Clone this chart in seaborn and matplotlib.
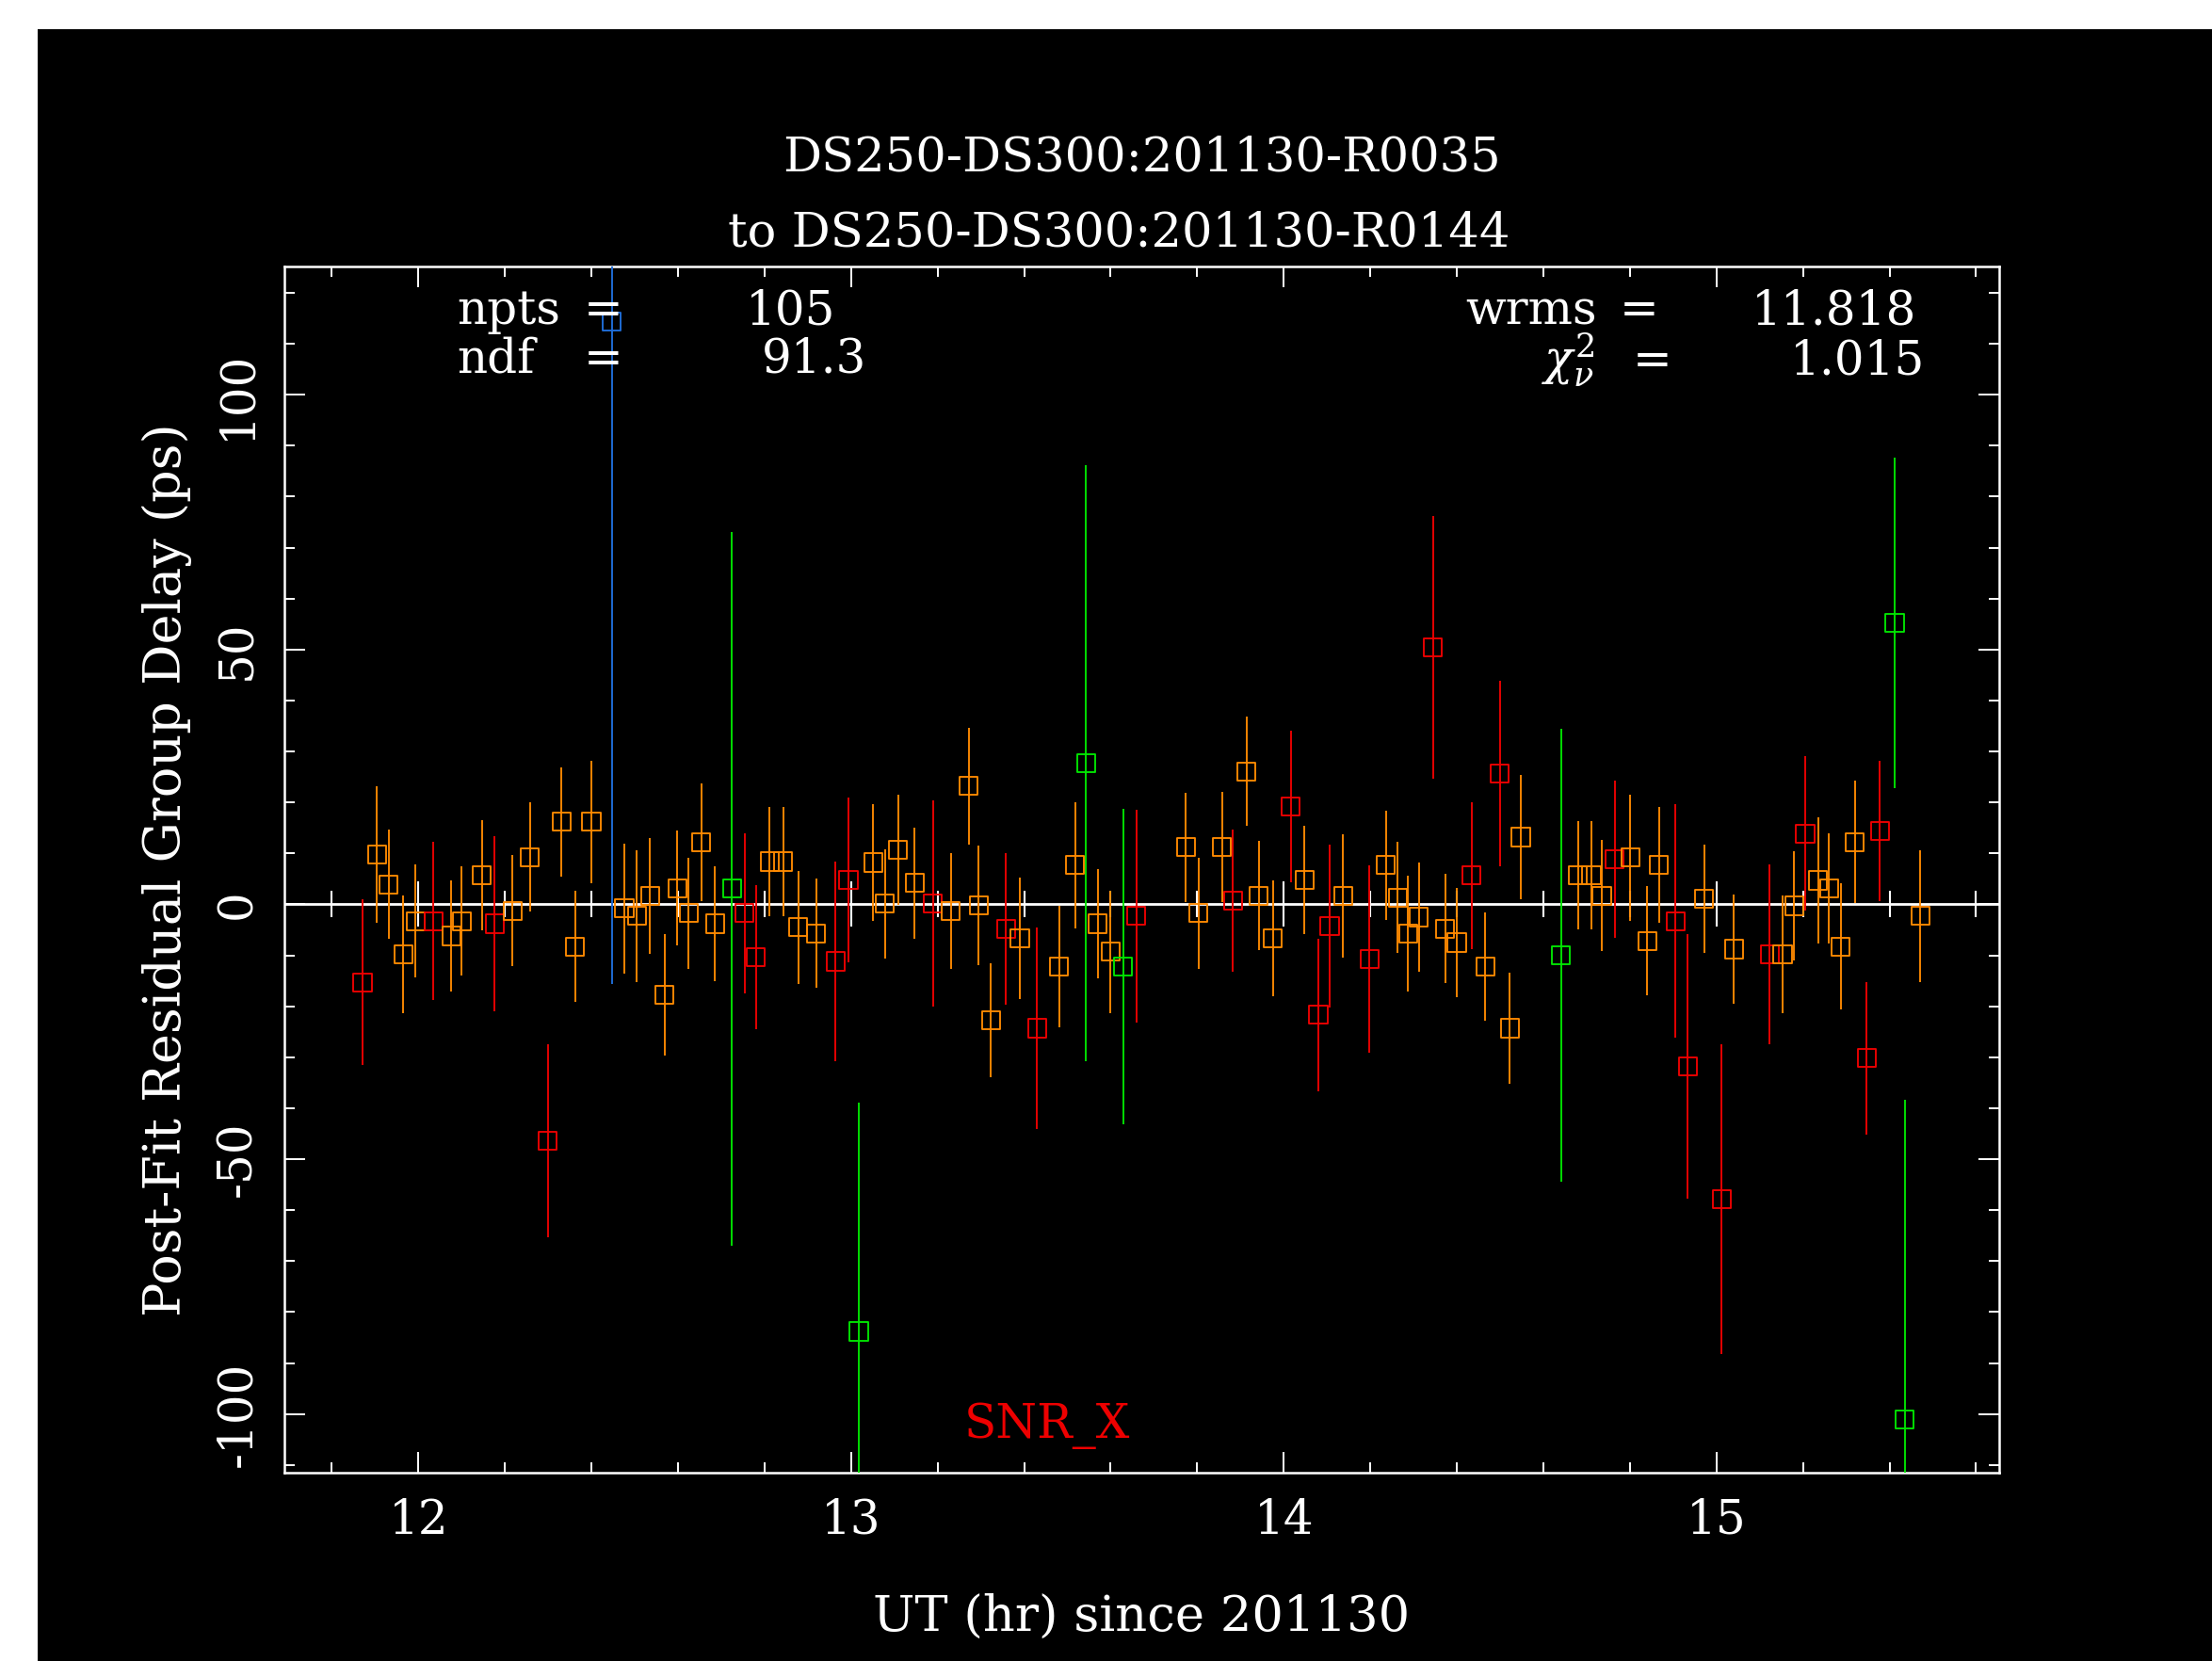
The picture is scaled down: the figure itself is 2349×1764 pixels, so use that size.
import numpy as np
import pandas as pd
import matplotlib
matplotlib.use("Agg")
import matplotlib.pyplot as plt
import seaborn as sns
from matplotlib.patches import Rectangle
from matplotlib.ticker import MultipleLocator

# ---------------- data ----------------
hours = [11.871, 11.904, 11.931, 11.965, 11.994, 12.035, 12.076, 12.100, 12.147, 12.176,
         12.218, 12.258, 12.299, 12.331, 12.362, 12.400, 12.447, 12.476, 12.505, 12.535,
         12.569, 12.599, 12.625, 12.654, 12.686, 12.725, 12.754, 12.780, 12.812, 12.843,
         12.878, 12.919, 12.964, 12.994, 13.018, 13.051, 13.078, 13.109, 13.147, 13.189,
         13.231, 13.272, 13.295, 13.323, 13.358, 13.390, 13.430, 13.481, 13.518, 13.543,
         13.570, 13.600, 13.629, 13.659, 13.774, 13.803, 13.857, 13.883, 13.914, 13.942,
         13.975, 14.016, 14.048, 14.080, 14.106, 14.137, 14.198, 14.236, 14.263, 14.287,
         14.312, 14.345, 14.373, 14.400, 14.434, 14.466, 14.499, 14.522, 14.548, 14.641,
         14.680, 14.711, 14.735, 14.765, 14.801, 14.840, 14.867, 14.905, 14.934, 14.972,
         15.012, 15.040, 15.123, 15.153, 15.180, 15.205, 15.235, 15.260, 15.287, 15.320,
         15.347, 15.378, 15.412, 15.435, 15.471]

delay = [-15.3, 9.7, 3.9, -9.8, -3.3, -3.3, -6.2, -3.3, 5.7, -3.8,
         -1.3, 9.3, -46.4, 16.2, -8.3, 16.2, 114.3, -0.8, -2.3, 1.7,
         -17.8, 3.2, -1.7, 12.2, -3.8, 3.1, -1.7, -10.3, 8.4, 8.4,
         -4.5, -5.7, -11.2, 4.8, -83.8, 8.2, 0.1, 10.7, 4.2, 0.2,
         -1.3, 23.2, -0.2, -22.8, -4.8, -6.7, -24.3, -12.2, 7.7, 27.7,
         -3.8, -9.3, -12.2, -2.3, 11.2, -1.7, 11.2, 0.7, 26.1, 1.7,
         -6.7, 19.2, 4.8, -21.7, -4.3, 1.7, -10.7, 7.7, 1.3, -5.7,
         -2.5, 50.4, -4.8, -7.5, 5.7, -12.2, 25.7, -24.3, 13.2, -10.0,
         5.7, 5.7, 1.7, 8.8, 9.2, -7.2, 7.7, -3.3, -31.8, 1.1,
         -57.9, -8.8, -9.8, -9.8, -0.3, 13.9, 4.7, 3.2, -8.3, 12.2,
         -30.2, 14.4, 55.2, -101.1, -2.3]

sigma = [16.3, 13.4, 10.7, 11.6, 11.1, 15.5, 10.9, 10.7, 10.8, 17.1,
         10.9, 10.7, 18.9, 10.7, 10.9, 12.0, 130.0, 12.7, 12.9, 11.4,
         11.9, 11.2, 10.9, 11.5, 11.2, 70.0, 15.7, 14.1, 10.7, 10.7,
         11.1, 10.7, 19.6, 16.1, 44.9, 11.4, 10.7, 10.8, 10.9, 20.2,
         11.4, 11.4, 11.7, 11.2, 14.9, 11.9, 19.7, 12.0, 12.4, 58.4,
         10.7, 12.0, 30.9, 20.9, 10.7, 10.9, 10.8, 13.9, 10.7, 10.7,
         11.4, 14.9, 10.7, 14.9, 16.0, 12.1, 18.4, 10.7, 10.9, 11.4,
         10.7, 25.8, 10.7, 10.7, 14.4, 10.7, 18.2, 10.9, 12.2, 44.5,
         10.7, 10.7, 10.9, 15.4, 12.4, 10.7, 11.4, 22.9, 25.9, 10.7,
         30.4, 10.7, 17.7, 11.6, 10.7, 15.1, 12.4, 10.8, 12.4, 12.0,
         14.9, 13.7, 32.4, 62.8, 12.9]

snr_class = ["R", "O", "O", "O", "O", "R", "O", "O", "O", "R",
             "O", "O", "R", "O", "O", "O", "B", "O", "O", "O",
             "O", "O", "O", "O", "O", "G", "R", "R", "O", "O",
             "O", "O", "R", "R", "G", "O", "O", "O", "O", "R",
             "O", "O", "O", "O", "R", "O", "R", "O", "O", "G",
             "O", "O", "G", "R", "O", "O", "O", "R", "O", "O",
             "O", "R", "O", "R", "R", "O", "R", "O", "O", "O",
             "O", "R", "O", "O", "R", "O", "R", "O", "O", "G",
             "O", "O", "O", "R", "O", "O", "O", "R", "R", "O",
             "R", "O", "R", "O", "O", "R", "O", "O", "O", "O",
             "R", "R", "G", "G", "O"]

class_colors = {"O": "#ff8a00", "R": "#ee0000", "G": "#00e600", "B": "#1f6fdc"}

title_lines = ["DS250-DS300:201130-R0035", "to DS250-DS300:201130-R0144"]
x_label = "UT (hr) since 201130"
y_label = "Post-Fit Residual Group Delay (ps)"
x_limits = (11.69, 15.653)
y_limits = (-111.5, 125.2)
stats_left = [("npts", "=", "105"), ("ndf", "=", "91.3")]
stats_right = [("wrms", "=", "11.818"), (r"$\chi^{2}_{\nu}$", "=", "1.015")]
band_label = "SNR_X"

# ---------------- style ----------------
W, H, DPI = 2349, 1764, 100
sns.set_theme(style="dark", rc={"axes.facecolor": "black",
                                "figure.facecolor": "white",
                                "axes.grid": False})
plt.rcParams["font.family"] = ["DejaVu Serif", "DejaVu Sans"]
plt.rcParams["mathtext.fontset"] = "dejavuserif"
plt.rcParams["axes.unicode_minus"] = False
FS = 36

df = pd.DataFrame({"hour": hours, "delay": delay, "sigma": sigma, "snr_class": snr_class})

fig = plt.figure(figsize=(W / DPI, H / DPI), dpi=DPI, facecolor="white")
fig.add_artist(Rectangle((40 / W, 0), 1 - 40 / W, 1 - 31 / H, transform=fig.transFigure,
                         facecolor="black", edgecolor="none", zorder=-100))

ax_left, ax_right, ax_top, ax_bottom = 301.8, 2122.8, 282.7, 1564.0
ax = fig.add_axes([ax_left / W, 1 - ax_bottom / H, (ax_right - ax_left) / W, (ax_bottom - ax_top) / H])
ax.set_facecolor("black")

# error bars
for cls, grp in df.groupby("snr_class"):
    ax.vlines(grp["hour"], grp["delay"] - grp["sigma"], grp["delay"] + grp["sigma"],
              colors=class_colors[cls], linewidth=1.35, zorder=3)

# hollow squares via seaborn
sns.scatterplot(data=df, x="hour", y="delay", hue="snr_class", palette=class_colors,
                marker="s", s=190, linewidth=1.35, legend=False, ax=ax, zorder=4)
pts = ax.collections[-1]
pts.set_edgecolors(pts.get_facecolors())
pts.set_facecolors("none")

ax.set_xlim(*x_limits)
ax.set_ylim(*y_limits)

ax.xaxis.set_major_locator(MultipleLocator(1))
ax.xaxis.set_minor_locator(MultipleLocator(0.2))
ax.yaxis.set_major_locator(MultipleLocator(50))
ax.yaxis.set_minor_locator(MultipleLocator(10))

for sp in ax.spines.values():
    sp.set_color("white")
    sp.set_linewidth(1.8)
    sp.set_visible(True)

ax.tick_params(which="both", direction="in", top=True, right=True, bottom=True, left=True,
               color="white", width=1.4, labelcolor="white", labelsize=FS)
ax.tick_params(which="major", length=16)
ax.tick_params(which="minor", length=8)
ax.tick_params(axis="x", which="major", pad=19)
ax.tick_params(axis="y", which="major", pad=18)
for lab in ax.get_yticklabels():
    lab.set_rotation(90)
    lab.set_va("center")

# zero line with its own tick marks
ax.axhline(0, color="white", linewidth=2.0, zorder=2)
maj = [t for t in ax.xaxis.get_majorticklocs() if x_limits[0] < t < x_limits[1]]
mnr = [t for t in ax.xaxis.get_minorticklocs() if x_limits[0] < t < x_limits[1]]
ax.plot(mnr, np.zeros(len(mnr)), ls="none", marker="|", ms=20, mew=1.5, color="white", zorder=2)
ax.plot(maj, np.zeros(len(maj)), ls="none", marker="|", ms=34, mew=1.5, color="white", zorder=2)

ax.set_xlabel(x_label, color="white", fontsize=38)
ax.xaxis.set_label_coords(0.4998, -0.1198)
ax.xaxis.label.set_va("center")
ax.set_ylabel(y_label, color="white", fontsize=39, va="center")
ax.yaxis.set_label_coords(-0.0685, 0.5)

def fx(px):
    return px / W

def fy(py):
    return 1 - py / H

# title lines
fig.text(fx(1212), fy(181), title_lines[0], color="white", fontsize=FS + 0.8, ha="center", va="baseline")
fig.text(fx(1188), fy(262), title_lines[1], color="white", fontsize=FS + 0.8, ha="center", va="baseline")

# statistics block
for (name, eq, val), base, vcen in zip(stats_left, [344, 396], [839.5, 865]):
    fig.text(fx(485), fy(base), name, color="white", fontsize=FS, ha="left", va="baseline")
    fig.text(fx(641), fy(base), eq, color="white", fontsize=FS, ha="center", va="baseline")
    fig.text(fx(vcen), fy(base), val, color="white", fontsize=FS, ha="center", va="baseline")
for (name, eq, val), base, nleft, eqc, vcen in zip(stats_right, [344, 398], [1556, 1637],
                                                    [1741, 1755], [1948, 1973]):
    fig.text(fx(nleft), fy(base), name, color="white", fontsize=FS, ha="left", va="baseline")
    fig.text(fx(eqc), fy(base), eq, color="white", fontsize=FS, ha="center", va="baseline")
    fig.text(fx(vcen), fy(base), val, color="white", fontsize=FS, ha="center", va="baseline")

fig.text(fx(1112), fy(1527), band_label, color="#ee0000", fontsize=FS, ha="center", va="baseline")

fig.savefig("out.png", dpi=DPI, facecolor=fig.get_facecolor())
